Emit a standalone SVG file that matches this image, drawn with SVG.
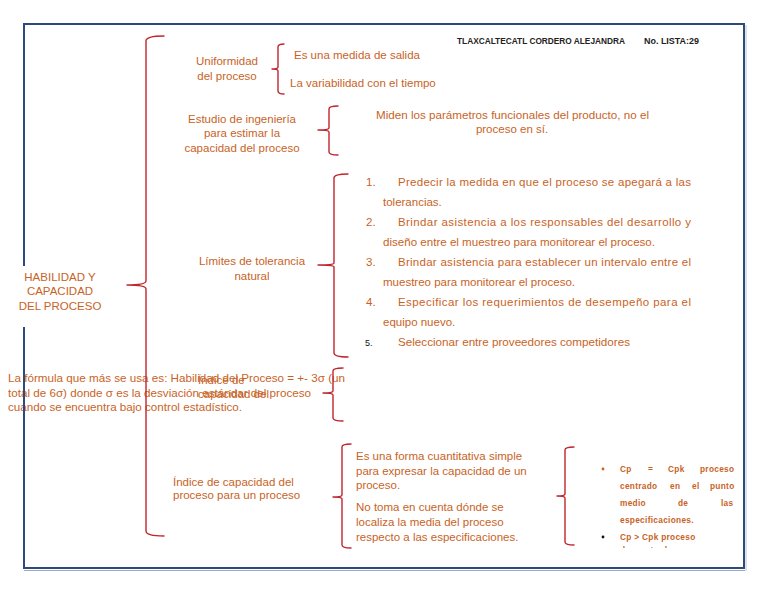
<svg xmlns="http://www.w3.org/2000/svg" width="768" height="594" viewBox="0 0 768 594">
<style>
.t{font-family:"Liberation Sans",Arial,sans-serif;font-size:11.5px;fill:#c8631f}
.c{text-anchor:middle}
.h{font-family:"Liberation Sans",Arial,sans-serif;font-size:8.6px;font-weight:bold;fill:#222}
.b{font-family:"Liberation Sans",Arial,sans-serif;font-size:8.3px;font-weight:bold;fill:#c8631f;letter-spacing:0.3px}
.br{fill:none;stroke:#c0262d;stroke-width:1.4;stroke-linecap:round;stroke-linejoin:round}
.fr{fill:none;stroke:#2e4a7d;stroke-width:2}
</style>
<defs><clipPath id="cl1"><rect x="0" y="0" width="768" height="548"/></clipPath></defs>
<rect width="768" height="594" fill="#fff"/>

<g id="header">
<text class="h" x="457" y="44" textLength="168" lengthAdjust="spacingAndGlyphs">TLAXCALTECATL CORDERO ALEJANDRA</text>
<text class="h" x="644" y="44" textLength="55" lengthAdjust="spacingAndGlyphs">No. LISTA:29</text>
</g>

<g id="root">
<text class="t c" x="60" y="281">HABILIDAD Y</text>
<text class="t c" x="60" y="295">CAPACIDAD</text>
<text class="t c" x="60" y="310">DEL PROCESO</text>
</g>

<g id="uniformidad">
<text class="t c" x="227" y="65">Uniformidad</text>
<text class="t c" x="227" y="80">del proceso</text>
</g>
<g id="uniformidad-items">
<text class="t" x="294" y="59">Es una medida de salida</text>
<text class="t" x="290" y="87">La variabilidad con el tiempo</text>
</g>

<g id="estudio">
<text class="t c" x="242" y="123">Estudio de ingeniería</text>
<text class="t c" x="242" y="137">para estimar la</text>
<text class="t c" x="242" y="152">capacidad del proceso</text>
</g>
<g id="estudio-item">
<text class="t" x="376" y="119" textLength="273" lengthAdjust="spacingAndGlyphs">Miden los parámetros funcionales del producto, no el</text>
<text class="t c" x="512" y="133">proceso en sí.</text>
</g>

<g id="limites">
<text class="t c" x="252" y="265">Límites de tolerancia</text>
<text class="t c" x="252" y="280">natural</text>
</g>
<g id="limites-items">
<text class="t" x="366" y="186">1.</text>
<text class="t" x="398" y="186" textLength="293" lengthAdjust="spacing">Predecir la medida en que el proceso se apegará a las</text>
<text class="t" x="383" y="206">tolerancias.</text>
<text class="t" x="366" y="226">2.</text>
<text class="t" x="398" y="226" textLength="293" lengthAdjust="spacing">Brindar asistencia a los responsables del desarrollo y</text>
<text class="t" x="383" y="246" textLength="272" lengthAdjust="spacingAndGlyphs">diseño entre el muestreo para monitorear el proceso.</text>
<text class="t" x="366" y="266">3.</text>
<text class="t" x="398" y="266" textLength="293" lengthAdjust="spacing">Brindar asistencia para establecer un intervalo entre el</text>
<text class="t" x="383" y="286" textLength="192" lengthAdjust="spacingAndGlyphs">muestreo para monitorear el proceso.</text>
<text class="t" x="366" y="306">4.</text>
<text class="t" x="398" y="306" textLength="293" lengthAdjust="spacing">Especificar los requerimientos de desempeño para el</text>
<text class="t" x="383" y="326">equipo nuevo.</text>
<text x="365" y="346" style="font-family:'Liberation Sans',Arial,sans-serif;font-size:9px;fill:#111">5.</text>
<text class="t" x="398" y="346" textLength="232" lengthAdjust="spacingAndGlyphs">Seleccionar entre proveedores competidores</text>
</g>

<g id="formula">
<text class="t" x="8" y="382" textLength="337" lengthAdjust="spacingAndGlyphs">La fórmula que más se usa es: Habilidad del Proceso = +- 3σ (un</text>
<text class="t" x="8" y="397" textLength="303" lengthAdjust="spacingAndGlyphs">total de 6σ) donde σ es la desviación estándar del proceso</text>
<text class="t" x="8" y="411" textLength="234" lengthAdjust="spacingAndGlyphs">cuando se encuentra bajo control estadístico.</text>
</g>
<g id="indice-overlap">
<text class="t" x="198" y="384">Índice de</text>
<text class="t" x="198" y="398">capacidad del</text>
</g>

<g id="indice">
<text class="t" x="173" y="486">Índice de capacidad del</text>
<text class="t" x="173" y="499">proceso para un proceso</text>
</g>
<g id="indice-items">
<text class="t" x="356" y="460">Es una forma cuantitativa simple</text>
<text class="t" x="356" y="475">para expresar la capacidad de un</text>
<text class="t" x="356" y="489">proceso.</text>
<text class="t" x="356" y="511">No toma en cuenta dónde se</text>
<text class="t" x="356" y="526">localiza la media del proceso</text>
<text class="t" x="356" y="541">respecto a las especificaciones.</text>
</g>

<g id="cp-items">
<circle cx="603" cy="469" r="1.4" fill="#c8631f"/>
<text class="b" y="472"><tspan x="620">Cp</tspan><tspan x="648">=</tspan><tspan x="668">Cpk</tspan><tspan x="700">proceso</tspan></text>
<text class="b" y="489"><tspan x="620">centrado</tspan><tspan x="670">en</tspan><tspan x="692">el</tspan><tspan x="710">punto</tspan></text>
<text class="b" y="506"><tspan x="620">medio</tspan><tspan x="678">de</tspan><tspan x="721">las</tspan></text>
<text class="b" x="620" y="523">especificaciones.</text>
<circle cx="603" cy="537" r="1.4" fill="#111"/>
<text class="b" x="620" y="540">Cp &gt; Cpk proceso</text>
<text class="b" x="620" y="553" clip-path="url(#cl1)">descentrado</text>
</g>

<g id="connectors">
<path class="br" d="M164,36 Q146,36 146,41 V281 Q146,285 127,285 Q146,285 146,289 V531 Q146,536 164,536"/>
<path class="br" d="M284,44 Q278,44 278,47 V67 Q278,69 272,69 Q278,69 278,71 V91 Q278,94 284,94"/>
<path class="br" d="M338,106 Q329,106 329,109 V128 Q329,130 318,130 Q329,130 329,132 V152 Q329,155 338,155"/>
<path class="br" d="M348,174 Q334,174 334,178 V263 Q334,265 318,265 Q334,265 334,267 V353 Q334,357 348,357"/>
<path class="br" d="M343,368 Q333,368 333,371 V391 Q333,393 323,393 Q333,393 333,395 V418 Q333,421 343,421"/>
<path class="br" d="M351,444 Q342,444 342,447 V495 Q342,497 333,497 Q342,497 342,499 V545 Q342,548 351,548"/>
<path class="br" d="M574,447 Q565,447 565,450 V494 Q565,496 557,496 Q565,496 565,498 V542 Q565,545 574,545"/>
</g>

<g id="frame">
<path class="fr" d="M24,266 V24 H744 V568 H24 V327"/>
<line x1="24" y1="570.5" x2="745" y2="570.5" stroke="#9aa8c4" stroke-width="1"/>
<line x1="746" y1="25" x2="746" y2="571" stroke="#b8c2d6" stroke-width="1"/>
</g>
</svg>
